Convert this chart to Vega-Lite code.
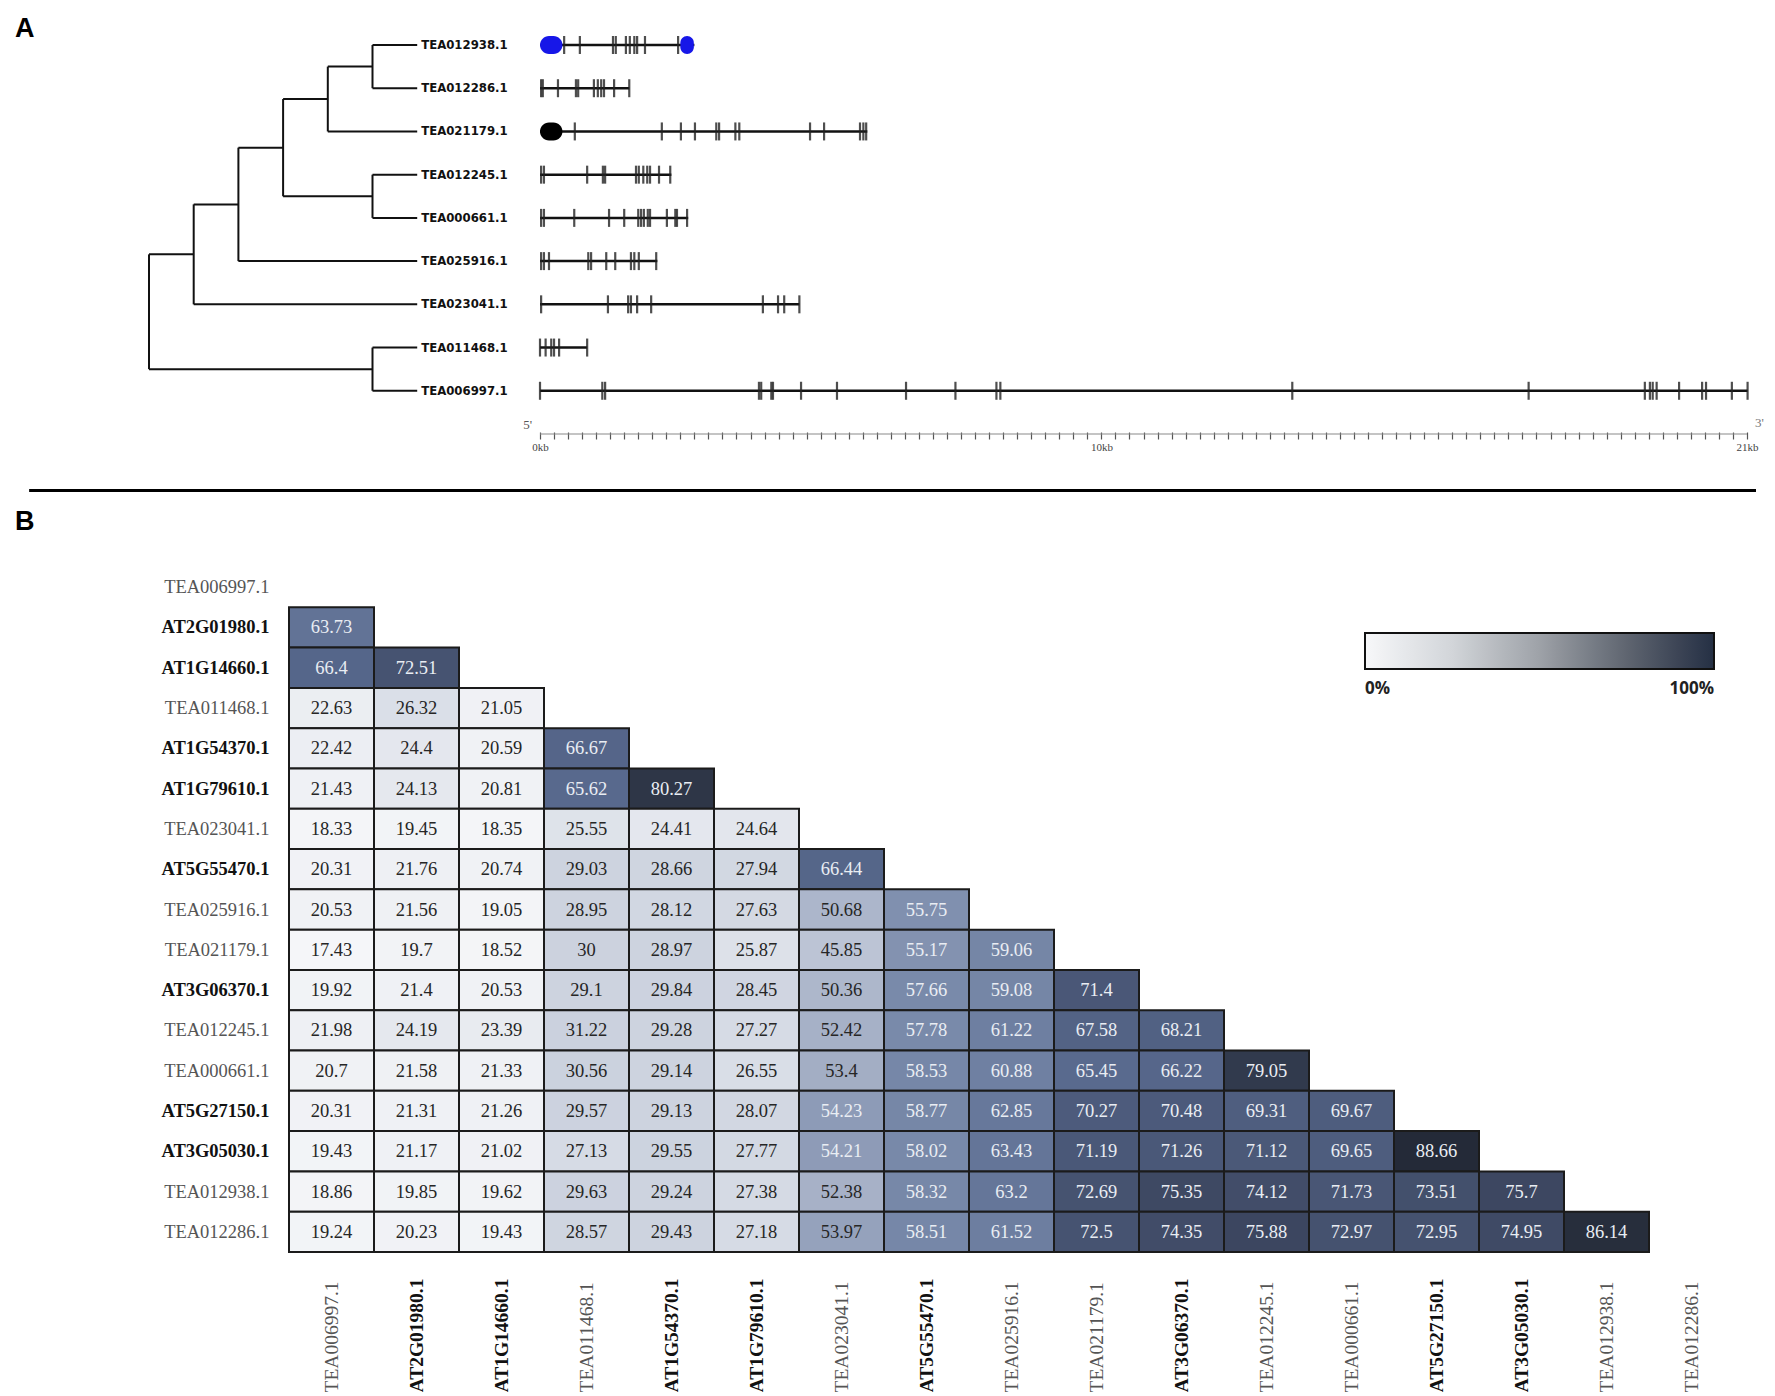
{
"$schema": "https://vega.github.io/schema/vega-lite/v6.json",
"padding": {"left": 14, "top": 14, "right": 0, "bottom": 0},
"bounds": "flush",
"spacing": 128,
"config": {"view": {"stroke": null}},
"datasets": {
"tree": [
{"x1":5,"x2":6,"y1":1,"y2":1},{"x1":5,"x2":6,"y1":2,"y2":2},{"x1":4,"x2":6,"y1":3,"y2":3},
{"x1":5,"x2":6,"y1":4,"y2":4},{"x1":5,"x2":6,"y1":5,"y2":5},{"x1":2,"x2":6,"y1":6,"y2":6},
{"x1":1,"x2":6,"y1":7,"y2":7},{"x1":5,"x2":6,"y1":8,"y2":8},{"x1":5,"x2":6,"y1":9,"y2":9},
{"x1":4,"x2":5,"y1":1.5,"y2":1.5},{"x1":3,"x2":4,"y1":2.25,"y2":2.25},{"x1":3,"x2":5,"y1":4.5,"y2":4.5},
{"x1":2,"x2":3,"y1":3.375,"y2":3.375},{"x1":1,"x2":2,"y1":4.6875,"y2":4.6875},{"x1":0,"x2":1,"y1":5.84375,"y2":5.84375},
{"x1":0,"x2":5,"y1":8.5,"y2":8.5},
{"x1":5,"x2":5,"y1":1,"y2":2},{"x1":4,"x2":4,"y1":1.5,"y2":3},{"x1":5,"x2":5,"y1":4,"y2":5},
{"x1":3,"x2":3,"y1":2.25,"y2":4.5},{"x1":2,"x2":2,"y1":3.375,"y2":6},{"x1":1,"x2":1,"y1":4.6875,"y2":7},
{"x1":5,"x2":5,"y1":8,"y2":9},{"x1":0,"x2":0,"y1":5.84375,"y2":8.5}
],
"genes": [
{"gene":"TEA012938.1","row":1,"tip":6,"start":0,"len":2.75},{"gene":"TEA012286.1","row":2,"tip":6,"start":0,"len":1.59},
{"gene":"TEA021179.1","row":3,"tip":6,"start":0,"len":5.83},{"gene":"TEA012245.1","row":4,"tip":6,"start":0,"len":2.34},
{"gene":"TEA000661.1","row":5,"tip":6,"start":0,"len":2.64},{"gene":"TEA025916.1","row":6,"tip":6,"start":0,"len":2.09},
{"gene":"TEA023041.1","row":7,"tip":6,"start":0,"len":4.62},{"gene":"TEA011468.1","row":8,"tip":6,"start":0,"len":0.84},
{"gene":"TEA006997.1","row":9,"tip":6,"start":0,"len":21.51}
],
"exons": [
{"row":1,"pos":0.43},{"row":1,"pos":0.71},{"row":1,"pos":1.30},{"row":1,"pos":1.35},{"row":1,"pos":1.53},{"row":1,"pos":1.60},{"row":1,"pos":1.68},{"row":1,"pos":1.73},{"row":1,"pos":1.87},{"row":1,"pos":2.46},
{"row":2,"pos":0.02},{"row":2,"pos":0.05},{"row":2,"pos":0.32},{"row":2,"pos":0.64},{"row":2,"pos":0.68},{"row":2,"pos":0.96},{"row":2,"pos":1.03},{"row":2,"pos":1.09},{"row":2,"pos":1.14},{"row":2,"pos":1.32},{"row":2,"pos":1.59},
{"row":3,"pos":0.62},{"row":3,"pos":2.17},{"row":3,"pos":2.51},{"row":3,"pos":2.76},{"row":3,"pos":3.14},{"row":3,"pos":3.19},{"row":3,"pos":3.48},{"row":3,"pos":3.55},{"row":3,"pos":4.81},{"row":3,"pos":5.06},{"row":3,"pos":5.70},{"row":3,"pos":5.76},{"row":3,"pos":5.81},
{"row":4,"pos":0.02},{"row":4,"pos":0.07},{"row":4,"pos":0.84},{"row":4,"pos":1.12},{"row":4,"pos":1.16},{"row":4,"pos":1.71},{"row":4,"pos":1.76},{"row":4,"pos":1.84},{"row":4,"pos":1.91},{"row":4,"pos":1.96},{"row":4,"pos":2.12},{"row":4,"pos":2.32},
{"row":5,"pos":0.02},{"row":5,"pos":0.07},{"row":5,"pos":0.61},{"row":5,"pos":1.23},{"row":5,"pos":1.50},{"row":5,"pos":1.75},{"row":5,"pos":1.80},{"row":5,"pos":1.85},{"row":5,"pos":1.92},{"row":5,"pos":1.96},{"row":5,"pos":2.26},{"row":5,"pos":2.41},{"row":5,"pos":2.44},{"row":5,"pos":2.62},
{"row":6,"pos":0.02},{"row":6,"pos":0.07},{"row":6,"pos":0.16},{"row":6,"pos":0.86},{"row":6,"pos":0.91},{"row":6,"pos":1.18},{"row":6,"pos":1.34},{"row":6,"pos":1.62},{"row":6,"pos":1.68},{"row":6,"pos":1.76},{"row":6,"pos":2.07},
{"row":7,"pos":0.02},{"row":7,"pos":1.21},{"row":7,"pos":1.57},{"row":7,"pos":1.62},{"row":7,"pos":1.73},{"row":7,"pos":1.98},{"row":7,"pos":3.97},{"row":7,"pos":4.24},{"row":7,"pos":4.35},{"row":7,"pos":4.62},
{"row":8,"pos":0.0},{"row":8,"pos":0.10},{"row":8,"pos":0.20},{"row":8,"pos":0.25},{"row":8,"pos":0.34},{"row":8,"pos":0.84},
{"row":9,"pos":0.0},{"row":9,"pos":1.11},{"row":9,"pos":1.16},{"row":9,"pos":3.90},{"row":9,"pos":3.94},{"row":9,"pos":4.12},{"row":9,"pos":4.15},{"row":9,"pos":4.65},{"row":9,"pos":5.29},{"row":9,"pos":6.52},{"row":9,"pos":7.40},{"row":9,"pos":8.13},{"row":9,"pos":8.20},{"row":9,"pos":13.40},{"row":9,"pos":17.61},{"row":9,"pos":19.68},{"row":9,"pos":19.77},{"row":9,"pos":19.82},{"row":9,"pos":19.89},{"row":9,"pos":20.29},{"row":9,"pos":20.70},{"row":9,"pos":20.77},{"row":9,"pos":21.23},{"row":9,"pos":21.51}
],
"utr": [
{"row":1,"s":0,"e":0.40,"feature":"UTR"},{"row":1,"s":2.50,"e":2.74,"feature":"UTR"},{"row":3,"s":0,"e":0.40,"feature":"other"}
],
"cells": [
{"r":"AT2G01980.1","c":"TEA006997.1","v":63.73},
{"r":"AT1G14660.1","c":"TEA006997.1","v":66.4},{"r":"AT1G14660.1","c":"AT2G01980.1","v":72.51},
{"r":"TEA011468.1","c":"TEA006997.1","v":22.63},{"r":"TEA011468.1","c":"AT2G01980.1","v":26.32},{"r":"TEA011468.1","c":"AT1G14660.1","v":21.05},
{"r":"AT1G54370.1","c":"TEA006997.1","v":22.42},{"r":"AT1G54370.1","c":"AT2G01980.1","v":24.4},{"r":"AT1G54370.1","c":"AT1G14660.1","v":20.59},{"r":"AT1G54370.1","c":"TEA011468.1","v":66.67},
{"r":"AT1G79610.1","c":"TEA006997.1","v":21.43},{"r":"AT1G79610.1","c":"AT2G01980.1","v":24.13},{"r":"AT1G79610.1","c":"AT1G14660.1","v":20.81},{"r":"AT1G79610.1","c":"TEA011468.1","v":65.62},{"r":"AT1G79610.1","c":"AT1G54370.1","v":80.27},
{"r":"TEA023041.1","c":"TEA006997.1","v":18.33},{"r":"TEA023041.1","c":"AT2G01980.1","v":19.45},{"r":"TEA023041.1","c":"AT1G14660.1","v":18.35},{"r":"TEA023041.1","c":"TEA011468.1","v":25.55},{"r":"TEA023041.1","c":"AT1G54370.1","v":24.41},{"r":"TEA023041.1","c":"AT1G79610.1","v":24.64},
{"r":"AT5G55470.1","c":"TEA006997.1","v":20.31},{"r":"AT5G55470.1","c":"AT2G01980.1","v":21.76},{"r":"AT5G55470.1","c":"AT1G14660.1","v":20.74},{"r":"AT5G55470.1","c":"TEA011468.1","v":29.03},{"r":"AT5G55470.1","c":"AT1G54370.1","v":28.66},{"r":"AT5G55470.1","c":"AT1G79610.1","v":27.94},{"r":"AT5G55470.1","c":"TEA023041.1","v":66.44},
{"r":"TEA025916.1","c":"TEA006997.1","v":20.53},{"r":"TEA025916.1","c":"AT2G01980.1","v":21.56},{"r":"TEA025916.1","c":"AT1G14660.1","v":19.05},{"r":"TEA025916.1","c":"TEA011468.1","v":28.95},{"r":"TEA025916.1","c":"AT1G54370.1","v":28.12},{"r":"TEA025916.1","c":"AT1G79610.1","v":27.63},{"r":"TEA025916.1","c":"TEA023041.1","v":50.68},{"r":"TEA025916.1","c":"AT5G55470.1","v":55.75},
{"r":"TEA021179.1","c":"TEA006997.1","v":17.43},{"r":"TEA021179.1","c":"AT2G01980.1","v":19.7},{"r":"TEA021179.1","c":"AT1G14660.1","v":18.52},{"r":"TEA021179.1","c":"TEA011468.1","v":30},{"r":"TEA021179.1","c":"AT1G54370.1","v":28.97},{"r":"TEA021179.1","c":"AT1G79610.1","v":25.87},{"r":"TEA021179.1","c":"TEA023041.1","v":45.85},{"r":"TEA021179.1","c":"AT5G55470.1","v":55.17},{"r":"TEA021179.1","c":"TEA025916.1","v":59.06},
{"r":"AT3G06370.1","c":"TEA006997.1","v":19.92},{"r":"AT3G06370.1","c":"AT2G01980.1","v":21.4},{"r":"AT3G06370.1","c":"AT1G14660.1","v":20.53},{"r":"AT3G06370.1","c":"TEA011468.1","v":29.1},{"r":"AT3G06370.1","c":"AT1G54370.1","v":29.84},{"r":"AT3G06370.1","c":"AT1G79610.1","v":28.45},{"r":"AT3G06370.1","c":"TEA023041.1","v":50.36},{"r":"AT3G06370.1","c":"AT5G55470.1","v":57.66},{"r":"AT3G06370.1","c":"TEA025916.1","v":59.08},{"r":"AT3G06370.1","c":"TEA021179.1","v":71.4},
{"r":"TEA012245.1","c":"TEA006997.1","v":21.98},{"r":"TEA012245.1","c":"AT2G01980.1","v":24.19},{"r":"TEA012245.1","c":"AT1G14660.1","v":23.39},{"r":"TEA012245.1","c":"TEA011468.1","v":31.22},{"r":"TEA012245.1","c":"AT1G54370.1","v":29.28},{"r":"TEA012245.1","c":"AT1G79610.1","v":27.27},{"r":"TEA012245.1","c":"TEA023041.1","v":52.42},{"r":"TEA012245.1","c":"AT5G55470.1","v":57.78},{"r":"TEA012245.1","c":"TEA025916.1","v":61.22},{"r":"TEA012245.1","c":"TEA021179.1","v":67.58},{"r":"TEA012245.1","c":"AT3G06370.1","v":68.21},
{"r":"TEA000661.1","c":"TEA006997.1","v":20.7},{"r":"TEA000661.1","c":"AT2G01980.1","v":21.58},{"r":"TEA000661.1","c":"AT1G14660.1","v":21.33},{"r":"TEA000661.1","c":"TEA011468.1","v":30.56},{"r":"TEA000661.1","c":"AT1G54370.1","v":29.14},{"r":"TEA000661.1","c":"AT1G79610.1","v":26.55},{"r":"TEA000661.1","c":"TEA023041.1","v":53.4},{"r":"TEA000661.1","c":"AT5G55470.1","v":58.53},{"r":"TEA000661.1","c":"TEA025916.1","v":60.88},{"r":"TEA000661.1","c":"TEA021179.1","v":65.45},{"r":"TEA000661.1","c":"AT3G06370.1","v":66.22},{"r":"TEA000661.1","c":"TEA012245.1","v":79.05},
{"r":"AT5G27150.1","c":"TEA006997.1","v":20.31},{"r":"AT5G27150.1","c":"AT2G01980.1","v":21.31},{"r":"AT5G27150.1","c":"AT1G14660.1","v":21.26},{"r":"AT5G27150.1","c":"TEA011468.1","v":29.57},{"r":"AT5G27150.1","c":"AT1G54370.1","v":29.13},{"r":"AT5G27150.1","c":"AT1G79610.1","v":28.07},{"r":"AT5G27150.1","c":"TEA023041.1","v":54.23},{"r":"AT5G27150.1","c":"AT5G55470.1","v":58.77},{"r":"AT5G27150.1","c":"TEA025916.1","v":62.85},{"r":"AT5G27150.1","c":"TEA021179.1","v":70.27},{"r":"AT5G27150.1","c":"AT3G06370.1","v":70.48},{"r":"AT5G27150.1","c":"TEA012245.1","v":69.31},{"r":"AT5G27150.1","c":"TEA000661.1","v":69.67},
{"r":"AT3G05030.1","c":"TEA006997.1","v":19.43},{"r":"AT3G05030.1","c":"AT2G01980.1","v":21.17},{"r":"AT3G05030.1","c":"AT1G14660.1","v":21.02},{"r":"AT3G05030.1","c":"TEA011468.1","v":27.13},{"r":"AT3G05030.1","c":"AT1G54370.1","v":29.55},{"r":"AT3G05030.1","c":"AT1G79610.1","v":27.77},{"r":"AT3G05030.1","c":"TEA023041.1","v":54.21},{"r":"AT3G05030.1","c":"AT5G55470.1","v":58.02},{"r":"AT3G05030.1","c":"TEA025916.1","v":63.43},{"r":"AT3G05030.1","c":"TEA021179.1","v":71.19},{"r":"AT3G05030.1","c":"AT3G06370.1","v":71.26},{"r":"AT3G05030.1","c":"TEA012245.1","v":71.12},{"r":"AT3G05030.1","c":"TEA000661.1","v":69.65},{"r":"AT3G05030.1","c":"AT5G27150.1","v":88.66},
{"r":"TEA012938.1","c":"TEA006997.1","v":18.86},{"r":"TEA012938.1","c":"AT2G01980.1","v":19.85},{"r":"TEA012938.1","c":"AT1G14660.1","v":19.62},{"r":"TEA012938.1","c":"TEA011468.1","v":29.63},{"r":"TEA012938.1","c":"AT1G54370.1","v":29.24},{"r":"TEA012938.1","c":"AT1G79610.1","v":27.38},{"r":"TEA012938.1","c":"TEA023041.1","v":52.38},{"r":"TEA012938.1","c":"AT5G55470.1","v":58.32},{"r":"TEA012938.1","c":"TEA025916.1","v":63.2},{"r":"TEA012938.1","c":"TEA021179.1","v":72.69},{"r":"TEA012938.1","c":"AT3G06370.1","v":75.35},{"r":"TEA012938.1","c":"TEA012245.1","v":74.12},{"r":"TEA012938.1","c":"TEA000661.1","v":71.73},{"r":"TEA012938.1","c":"AT5G27150.1","v":73.51},{"r":"TEA012938.1","c":"AT3G05030.1","v":75.7},
{"r":"TEA012286.1","c":"TEA006997.1","v":19.24},{"r":"TEA012286.1","c":"AT2G01980.1","v":20.23},{"r":"TEA012286.1","c":"AT1G14660.1","v":19.43},{"r":"TEA012286.1","c":"TEA011468.1","v":28.57},{"r":"TEA012286.1","c":"AT1G54370.1","v":29.43},{"r":"TEA012286.1","c":"AT1G79610.1","v":27.18},{"r":"TEA012286.1","c":"TEA023041.1","v":53.97},{"r":"TEA012286.1","c":"AT5G55470.1","v":58.51},{"r":"TEA012286.1","c":"TEA025916.1","v":61.52},{"r":"TEA012286.1","c":"TEA021179.1","v":72.5},{"r":"TEA012286.1","c":"AT3G06370.1","v":74.35},{"r":"TEA012286.1","c":"TEA012245.1","v":75.88},{"r":"TEA012286.1","c":"TEA000661.1","v":72.97},{"r":"TEA012286.1","c":"AT5G27150.1","v":72.95},{"r":"TEA012286.1","c":"AT3G05030.1","v":74.95},{"r":"TEA012286.1","c":"TEA012938.1","v":86.14}
]
},
"vconcat": [
{
"width": 1467, "height": 423,
"layer": [
{"data": {"name": "tree"}, "mark": {"type": "rule", "strokeWidth": 2, "color": "#111111"},
 "encoding": {
  "x": {"field": "x1", "type": "quantitative", "scale": {"domain": [3.132, 35.95], "nice": false, "zero": false}, "axis": null},
  "x2": {"field": "x2"},
  "y": {"field": "y1", "type": "quantitative", "scale": {"domain": [0.445, 10], "reverse": true, "nice": false, "zero": false}, "axis": null},
  "y2": {"field": "y2"}}},
{"data": {"name": "genes"}, "mark": {"type": "text", "align": "left", "baseline": "middle", "dx": 4, "font": "DejaVu Sans Condensed, DejaVu Sans, sans-serif", "fontSize": 13, "fontWeight": "bold", "color": "#111111"},
 "encoding": {
  "x": {"field": "tip", "type": "quantitative", "scale": {"domain": [3.132, 35.95], "nice": false, "zero": false}, "axis": null},
  "y": {"field": "row", "type": "quantitative", "scale": {"domain": [0.445, 10], "reverse": true, "nice": false, "zero": false}, "axis": null},
  "text": {"field": "gene", "type": "nominal"}}},
{"data": {"values": [{"label": "A", "depth": -3, "row": 0.63}, {"label": "B", "depth": -3, "row": 12.03}]},
 "mark": {"type": "text", "align": "left", "baseline": "middle", "font": "Liberation Sans", "fontSize": 27, "fontWeight": "bold", "color": "#000000"},
 "encoding": {
  "x": {"field": "depth", "type": "quantitative", "scale": {"domain": [3.132, 35.95], "nice": false, "zero": false}, "axis": null},
  "y": {"field": "row", "type": "quantitative", "scale": {"domain": [0.445, 10], "reverse": true, "nice": false, "zero": false}, "axis": null},
  "text": {"field": "label", "type": "nominal"}}},
{"data": {"name": "genes"}, "mark": {"type": "rule", "strokeWidth": 2.5, "color": "#111111"},
 "encoding": {
  "x": {"field": "start", "type": "quantitative", "scale": {"domain": [-4.471, 21.66], "nice": false, "zero": false}, "axis": null},
  "x2": {"field": "len"},
  "y": {"field": "row", "type": "quantitative", "scale": {"domain": [0.445, 10], "reverse": true, "nice": false, "zero": false}, "axis": null}}},
{"data": {"name": "exons"}, "mark": {"type": "tick", "orient": "vertical", "size": 18, "thickness": 2.2, "color": "#222222", "opacity": 0.8},
 "encoding": {
  "x": {"field": "pos", "type": "quantitative", "scale": {"domain": [-4.471, 21.66], "nice": false, "zero": false}, "axis": null},
  "y": {"field": "row", "type": "quantitative", "scale": {"domain": [0.445, 10], "reverse": true, "nice": false, "zero": false}, "axis": null}}},
{"data": {"name": "utr"}, "mark": {"type": "bar", "orient": "horizontal", "size": 18, "cornerRadius": 9},
 "encoding": {
  "x": {"field": "s", "type": "quantitative", "scale": {"domain": [-4.471, 21.66], "nice": false, "zero": false}, "axis": null},
  "x2": {"field": "e"},
  "y": {"field": "row", "type": "quantitative", "scale": {"domain": [0.445, 10], "reverse": true, "nice": false, "zero": false}, "axis": null},
  "color": {"field": "feature", "type": "nominal", "scale": {"domain": ["UTR", "other"], "range": ["#1717e8", "#000000"]}, "legend": null}}},
{"data": {"values": [{"start": 0, "end": 21.5, "row": 10}]}, "mark": {"type": "rule", "color": "#8a8a8a", "strokeWidth": 1.2},
 "encoding": {
  "x": {"field": "start", "type": "quantitative", "scale": {"domain": [-4.471, 21.66], "nice": false, "zero": false},
   "axis": {"orient": "bottom", "title": null, "domain": false, "grid": false, "tickSize": -7, "tickColor": "#555555", "tickWidth": 1.2, "labelPadding": 9, "labelFontSize": 11, "labelColor": "#444444", "labelFont": "Liberation Serif", "labelOverlap": false,
    "values": [0,0.25,0.5,0.75,1,1.25,1.5,1.75,2,2.25,2.5,2.75,3,3.25,3.5,3.75,4,4.25,4.5,4.75,5,5.25,5.5,5.75,6,6.25,6.5,6.75,7,7.25,7.5,7.75,8,8.25,8.5,8.75,9,9.25,9.5,9.75,10,10.25,10.5,10.75,11,11.25,11.5,11.75,12,12.25,12.5,12.75,13,13.25,13.5,13.75,14,14.25,14.5,14.75,15,15.25,15.5,15.75,16,16.25,16.5,16.75,17,17.25,17.5,17.75,18,18.25,18.5,18.75,19,19.25,19.5,19.75,20,20.25,20.5,20.75,21,21.25,21.5],
    "labelExpr": "datum.value == 0 ? '0kb' : datum.value == 10 ? '10kb' : datum.value == 21.5 ? '21kb' : ''"}},
  "x2": {"field": "end"},
  "y": {"field": "row", "type": "quantitative", "scale": {"domain": [0.445, 10], "reverse": true, "nice": false, "zero": false}, "axis": null}}},
{"data": {"values": [{"label": "5'", "pos": 0, "row": 10}]}, "mark": {"type": "text", "align": "right", "baseline": "bottom", "dx": -8, "dy": -2, "font": "Liberation Serif", "fontSize": 13, "color": "#555555"},
 "encoding": {
  "x": {"field": "pos", "type": "quantitative", "scale": {"domain": [-4.471, 21.66], "nice": false, "zero": false}, "axis": null},
  "y": {"field": "row", "type": "quantitative", "scale": {"domain": [0.445, 10], "reverse": true, "nice": false, "zero": false}, "axis": null},
  "text": {"field": "label", "type": "nominal"}}},
{"data": {"values": [{"label": "3'", "pos": 21.5, "row": 10}]}, "mark": {"type": "text", "align": "left", "baseline": "bottom", "dx": 8, "dy": -4, "font": "Liberation Serif", "fontSize": 13, "color": "#777777"},
 "encoding": {
  "x": {"field": "pos", "type": "quantitative", "scale": {"domain": [-4.471, 21.66], "nice": false, "zero": false}, "axis": null},
  "y": {"field": "row", "type": "quantitative", "scale": {"domain": [0.445, 10], "reverse": true, "nice": false, "zero": false}, "axis": null},
  "text": {"field": "label", "type": "nominal"}}},
{"data": {"values": [{"from": -9.1, "to": 21.66, "row": 11.31}]}, "mark": {"type": "rule", "color": "#000000", "strokeWidth": 3},
 "encoding": {
  "x": {"field": "from", "type": "quantitative", "scale": {"domain": [-4.471, 21.66], "nice": false, "zero": false}, "axis": null},
  "x2": {"field": "to"},
  "y": {"field": "row", "type": "quantitative", "scale": {"domain": [0.445, 10], "reverse": true, "nice": false, "zero": false}, "axis": null}}}
],
"resolve": {"scale": {"x": "independent"}, "axis": {"x": "independent"}}
},
{
"width": 1445, "height": 685,
"layer": [
{"data": {"name": "cells"}, "mark": {"type": "rect", "stroke": "#1b1b1b", "strokeWidth": 2},
 "encoding": {
  "x": {"field": "c", "type": "nominal",
   "scale": {"domain": ["TEA006997.1","AT2G01980.1","AT1G14660.1","TEA011468.1","AT1G54370.1","AT1G79610.1","TEA023041.1","AT5G55470.1","TEA025916.1","TEA021179.1","AT3G06370.1","TEA012245.1","TEA000661.1","AT5G27150.1","AT3G05030.1","TEA012938.1","TEA012286.1"], "paddingInner": 0, "paddingOuter": 0},
   "axis": {"orient": "bottom", "title": null, "domain": false, "ticks": false, "labelAngle": -90, "labelAlign": "left", "labelBaseline": "middle", "labelPadding": 140, "labelFont": "Liberation Serif", "labelFontSize": 19.5, "labelLimit": 300,
    "labelFontWeight": {"condition": {"test": "indexof(datum.value, 'AT') == 0", "value": "bold"}, "value": "normal"},
    "labelColor": {"condition": {"test": "indexof(datum.value, 'AT') == 0", "value": "#111111"}, "value": "#555555"}}},
  "y": {"field": "r", "type": "nominal",
   "scale": {"domain": ["TEA006997.1","AT2G01980.1","AT1G14660.1","TEA011468.1","AT1G54370.1","AT1G79610.1","TEA023041.1","AT5G55470.1","TEA025916.1","TEA021179.1","AT3G06370.1","TEA012245.1","TEA000661.1","AT5G27150.1","AT3G05030.1","TEA012938.1","TEA012286.1"], "paddingInner": 0, "paddingOuter": 0},
   "axis": {"orient": "left", "title": null, "domain": false, "ticks": false, "labelPadding": 20, "labelFont": "Liberation Serif", "labelFontSize": 18.5, "labelLimit": 300,
    "labelFontWeight": {"condition": {"test": "indexof(datum.value, 'AT') == 0", "value": "bold"}, "value": "normal"},
    "labelColor": {"condition": {"test": "indexof(datum.value, 'AT') == 0", "value": "#111111"}, "value": "#555555"}}},
  "color": {"field": "v", "type": "quantitative",
   "scale": {"domain": [17, 22, 25, 29, 46, 51, 53.5, 54.5, 58, 62, 66, 71, 75, 80, 89],
    "range": ["#f6f7f9","#eef0f4","#e1e5ec","#cdd3df","#bcc4d5","#abb5ca","#a3aec4","#8594b2","#7889a9","#6c7d9f","#56678b","#4b5979","#3f4a65","#2e3647","#242a37"]},
   "legend": null}}},
{"data": {"name": "cells"}, "mark": {"type": "text", "font": "Liberation Serif", "fontSize": 18.5},
 "encoding": {
  "x": {"field": "c", "type": "nominal"},
  "y": {"field": "r", "type": "nominal"},
  "text": {"field": "v", "type": "nominal"},
  "color": {"condition": {"test": "datum.v >= 54", "value": "#e9edf3"}, "value": "#262626"}}},
{"data": {"values": [{"pct": 0, "c": "TEA012286.1", "r": "TEA006997.1"}, {"pct": 100, "c": "TEA012286.1", "r": "TEA006997.1"}]},
 "mark": {"type": "rect", "fillOpacity": 0, "strokeWidth": 0},
 "encoding": {
  "x": {"field": "c", "type": "nominal"},
  "y": {"field": "r", "type": "nominal"},
  "fill": {"field": "pct", "type": "quantitative",
   "scale": {"domain": [0, 25, 50, 75, 100], "range": ["#f7f8fa", "#d2d5d9", "#9ea2a8", "#5f6570", "#253044"]},
   "legend": {"orient": "none", "legendX": 1076, "legendY": 617, "direction": "horizontal", "gradientLength": 349, "gradientThickness": 36, "title": null, "values": [0, 100], "labelExpr": "datum.value + '%'", "gradientStrokeColor": "#111111", "gradientStrokeWidth": 2, "labelFont": "Open Sans", "labelFontSize": 17, "labelFontWeight": "bold", "labelColor": "#222222", "labelOffset": 12}}}}
]
}
]
}
